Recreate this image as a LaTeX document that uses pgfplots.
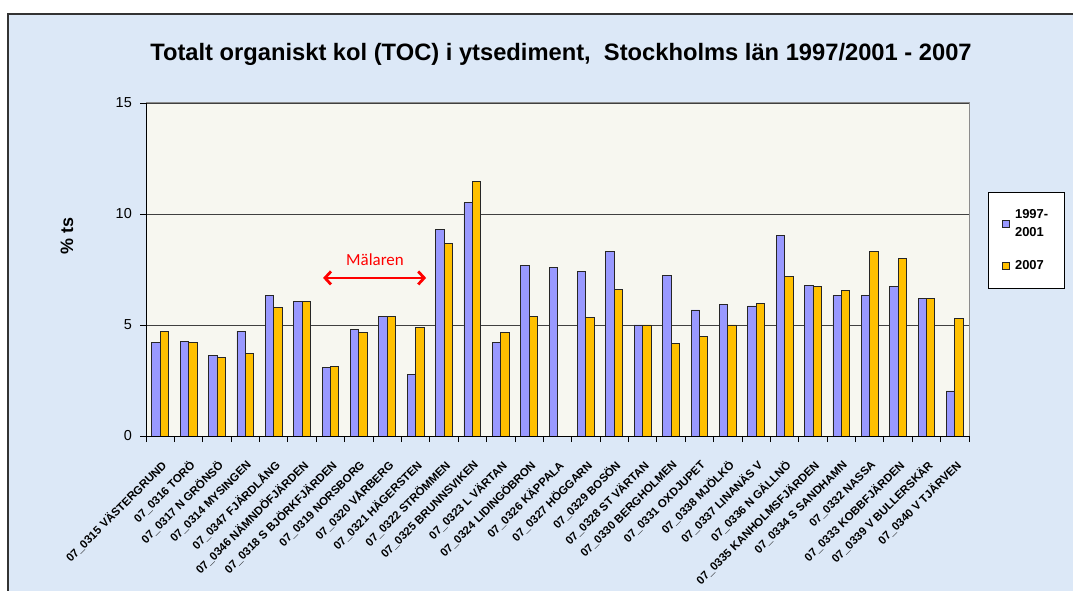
\documentclass[border=0pt]{standalone}
\usepackage{pgfplots}
\pgfplotsset{compat=1.18}
\usepackage{fontspec}
\setmainfont{Liberation Sans}
\newfontfamily\calfont{Carlito}
\usetikzlibrary{arrows.meta}
\definecolor{bgblue}{RGB}{220,232,247}
\definecolor{plotbg}{RGB}{247,247,240}
\definecolor{barblue}{RGB}{153,153,255}
\definecolor{barorange}{RGB}{255,192,0}
\begin{document}
\begin{tikzpicture}
\path[use as bounding box] (0bp,0bp) rectangle (1073bp,591bp);
\fill[white] (0bp,0bp) rectangle (1073bp,591bp);
\fill[bgblue] (8bp,0bp) rectangle (1073bp,577bp);
\draw[line width=1.2bp, black!80] (8bp,0bp) -- (8bp,577bp) -- (1073bp,577bp);
\node[font=\bfseries\fontsize{23.8}{26}\selectfont] at (561bp,537bp) {Totalt organiskt kol (TOC) i ytsediment,\ \ Stockholms län 1997/2001 - 2007};
\begin{axis}[
  at={(146bp,155bp)}, anchor=south west,
  width=823bp, height=333bp, scale only axis,
  ybar=0pt, bar width=8.4bp,
  xmin=-0.5, xmax=28.5, ymin=0, ymax=15,
  ytick={0,5,10,15},
  tick pos=left,
  /pgf/number format/assume math mode=true,
  yticklabel style={font=\fontsize{14.5}{16}\selectfont, inner sep=0pt, xshift=-8bp},
  ymajorgrids, grid style={black!75, line width=0.9bp},
  axis background/.style={fill=plotbg},
  axis line style={draw=none},
  tick align=outside, major tick length=6bp,
  y tick style={black, line width=0.9bp},
  xtick={0,...,28},
  major x tick style={draw=none},
  minor xtick={-0.5,0.5,...,28.5},
  minor x tick style={black, line width=0.8bp},
  minor tick length=6bp,
  xticklabels={07\_0315 VÄSTERGRUND,07\_0316 TORÖ,07\_0317 N GRÖNSÖ,07\_0314 MYSINGEN,07\_0347 FJÄRDLÅNG,07\_0346 NÄMNDÖFJÄRDEN,07\_0318 S BJÖRKFJÄRDEN,07\_0319 NORSBORG,07\_0320 VÅRBERG,07\_0321 HÄGERSTEN,07\_0322 STRÖMMEN,07\_0325 BRUNNSVIKEN,07\_0323 L VÄRTAN,07\_0324 LIDINGÖBRON,07\_0326 KÄPPALA,07\_0327 HÖGGARN,07\_0329 BOSÖN,07\_0328 ST VÄRTAN,07\_0330 BERGHOLMEN,07\_0331 OXDJUPET,07\_0338 MJÖLKÖ,07\_0337 LINANÄS V,07\_0336 N GÄLLNÖ,07\_0335 KANHOLMSFJÄRDEN,07\_0334 S SANDHAMN,07\_0332 NASSA,07\_0333 KOBBFJÄRDEN,07\_0339 V BULLERSKÄR,07\_0340 V TJÄRVEN},
  xticklabel style={font=\bfseries\fontsize{11.5}{12}\selectfont, rotate=45, anchor=east, inner sep=0pt, yshift=-18bp, xshift=-12bp},
  ylabel={\% ts},
  ylabel style={font=\bfseries\fontsize{18}{20}\selectfont, at={(axis description cs:-0.096,0.6)}, anchor=center},
  legend style={at={(axis description cs:1.0231,0.7327)}, anchor=north west,
    draw=black, line width=0.9bp, fill=white, font=\bfseries\fontsize{13}{18}\selectfont,
    cells={align=left, anchor=west},
    inner xsep=14bp, inner ysep=15bp, row sep=19bp},
  legend image code/.code={\draw[#1, line width=0.6bp] (0bp,-3.5bp) rectangle (7bp,3.5bp);},
  clip=false,
]
\addplot[fill=barblue, draw=black!85, line width=0.8bp] coordinates {
(0,4.21) (1,4.26) (2,3.62) (3,4.72) (4,6.32) (5,6.05) (6,3.07) (7,4.78) (8,5.40) (9,2.78)
(10,9.29) (11,10.50) (12,4.21) (13,7.70) (14,7.58) (15,7.41) (16,8.32) (17,5.00) (18,7.23) (19,5.68)
(20,5.91) (21,5.86) (22,9.02) (23,6.78) (24,6.32) (25,6.32) (26,6.72) (27,6.20) (28,2.03)};
\addplot[fill=barorange, draw=black!85, line width=0.8bp] coordinates {
(0,4.72) (1,4.21) (2,3.53) (3,3.70) (4,5.80) (5,6.05) (6,3.13) (7,4.66) (8,5.40) (9,4.90)
(10,8.68) (11,11.47) (12,4.66) (13,5.40) (15,5.34) (16,6.62) (17,5.00) (18,4.15) (19,4.48)
(20,5.00) (21,5.97) (22,7.17) (23,6.72) (24,6.56) (25,8.32) (26,7.98) (27,6.20) (28,5.29)};
\legend{\hspace{3bp}1997-\\\hspace{3bp}2001,\hspace{3bp}2007}
\draw[black, line width=1bp] (axis cs:-0.5,0) -- (axis cs:-0.5,15);
\draw[black, line width=1bp] (axis cs:-0.5,0) -- (axis cs:28.5,0);
\draw[black!45, line width=1bp] (axis cs:-0.5,15) -- (axis cs:28.5,15) -- (axis cs:28.5,0);
\draw[red, line width=2.8bp, {Straight Barb[length=6bp,width=13bp]}-{Straight Barb[length=6bp,width=13bp]}] (axis cs:5.74,7.12) -- (axis cs:9.37,7.12);
\node[red, font=\calfont\fontsize{17}{20}\selectfont] at (axis cs:7.57,7.93) {Mälaren};
\end{axis}
\end{tikzpicture}
\end{document}
